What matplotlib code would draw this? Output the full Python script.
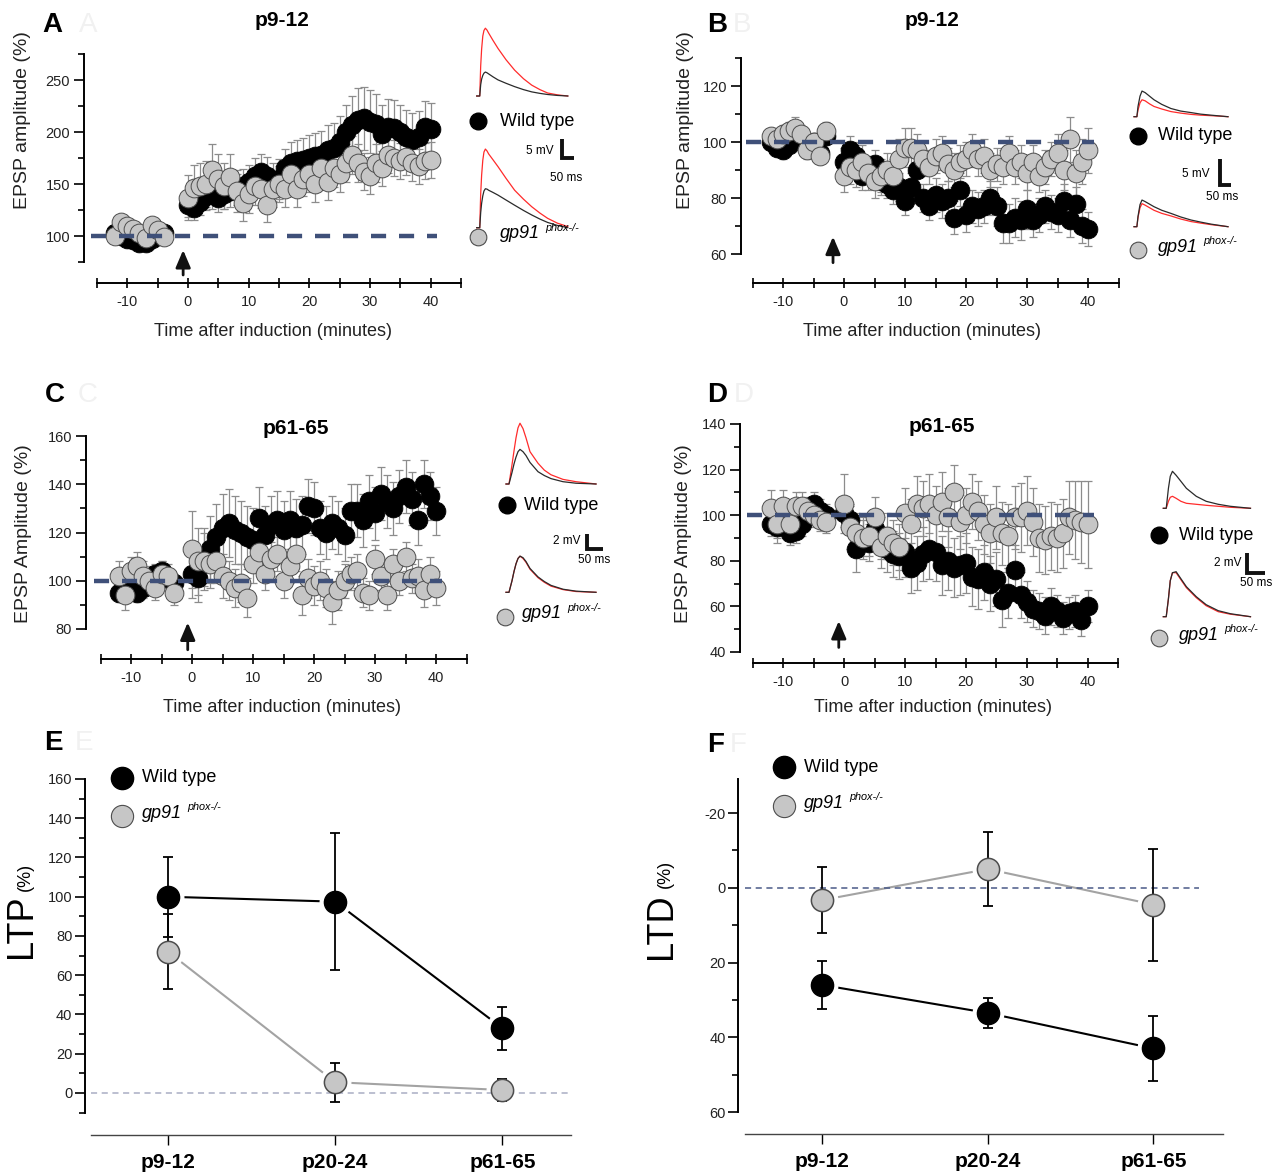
import numpy as np
import matplotlib
matplotlib.use("Agg")
import matplotlib.pyplot as plt
from matplotlib.ticker import MultipleLocator

plt.rcParams['font.family'] = ['Liberation Sans', 'DejaVu Sans']
plt.rcParams['axes.unicode_minus'] = False

W, H = 1283, 1172

# ---------------- time courses, EPSP amplitude (% of baseline) ----------------
base_min_A = [-12, -11, -10, -9, -8, -7, -6, -5, -4]
base_min = [-12, -11, -10, -9, -8, -7, -6, -5, -4, -3]
post_min = list(range(0, 41))

# A  LTP  p9-12
A_wt_base = [103, 100, 97, 96, 93, 93, 97, 100, 103]
A_wt_base_err = [4, 4, 5, 4, 4, 5, 4, 4, 4]
A_ko_base = [100, 113, 110, 107, 103, 98, 111, 106, 99]
A_ko_base_err = [5, 6, 6, 5, 5, 5, 6, 5, 5]
A_wt = [130, 127, 133, 138, 140, 137, 140, 143, 145, 148, 152, 158, 162, 158, 152, 155, 165, 170, 172, 173,
        175, 177, 178, 183, 185, 190, 200, 207, 212, 213, 210, 208, 198, 205, 204, 200, 195, 192, 195, 205, 203]
A_wt_err = [12, 12, 13, 13, 14, 14, 14, 15, 15, 16, 16, 17, 17, 18, 18, 19, 19, 20, 20, 21,
            22, 22, 23, 24, 24, 25, 26, 28, 30, 30, 30, 29, 28, 27, 27, 26, 26, 26, 25, 25, 25]
A_ko = [137, 146, 148, 150, 163, 155, 148, 157, 143, 132, 140, 148, 145, 130, 145, 150, 145, 160, 145, 155,
        160, 150, 165, 152, 165, 160, 170, 178, 170, 162, 158, 170, 165, 178, 175, 172, 176, 170, 167, 172, 173]
A_ko_err = [22, 22, 22, 22, 25, 24, 22, 22, 20, 18, 18, 18, 18, 17, 17, 17, 17, 18, 17, 17,
            18, 17, 18, 17, 18, 18, 18, 18, 18, 18, 18, 18, 17, 17, 17, 17, 17, 17, 17, 17, 17]

# B  LTD  p9-12
B_wt_base = [100, 98, 97, 99, 103, 102, 100, 100, 96, 102]
B_wt_base_err = [3, 3, 3, 3, 4, 3, 3, 3, 3, 3]
B_ko_base = [102, 101, 103, 104, 105, 103, 97, 100, 95, 104]
B_ko_base_err = [3, 3, 3, 3, 4, 3, 3, 3, 3, 3]
B_wt = [93, 97, 95, 88, 90, 92, 86, 85, 83, 84, 79, 84, 90, 80, 77, 81, 79, 80, 73, 83,
        74, 77, 76, 77, 80, 77, 71, 71, 73, 72, 76, 72, 74, 77, 75, 74, 79, 72, 78, 70, 69]
B_wt_err = [5, 5, 5, 5, 5, 5, 5, 5, 5, 5, 5, 5, 5, 5, 5, 6, 6, 6, 6, 6,
            6, 6, 6, 6, 6, 7, 7, 7, 7, 7, 7, 6, 6, 6, 6, 6, 6, 6, 6, 6, 6]
B_ko = [88, 91, 90, 93, 89, 86, 88, 90, 88, 94, 98, 98, 97, 94, 91, 95, 96, 92, 90, 93,
        94, 97, 94, 95, 90, 92, 91, 96, 91, 93, 89, 93, 88, 91, 94, 96, 90, 101, 89, 93, 97]
B_ko_err = [6, 6, 6, 6, 6, 6, 6, 6, 6, 7, 7, 7, 6, 6, 6, 6, 6, 6, 6, 6,
            6, 6, 6, 6, 6, 6, 6, 6, 6, 6, 6, 6, 6, 6, 6, 7, 7, 8, 8, 8, 8]

# C  LTP  p61-65
C_wt_base = [95, 97, 96, 95, 97, 99, 103, 104, 101, 99]
C_wt_base_err = [4, 4, 4, 4, 4, 4, 4, 4, 4, 4]
C_ko_base = [102, 94, 104, 106, 102, 100, 97, 103, 102, 95]
C_ko_base_err = [6, 6, 6, 6, 6, 6, 5, 5, 5, 5]
C_wt = [103, 101, 110, 113, 118, 122, 124, 121, 120, 118, 117, 126, 119, 123, 125, 121, 125, 122, 123, 131,
        130, 122, 120, 124, 122, 119, 129, 129, 125, 133, 128, 136, 133, 130, 135, 139, 134, 125, 140, 135, 129]
C_wt_err = [10, 10, 12, 14, 14, 14, 14, 14, 13, 13, 13, 13, 12, 12, 12, 12, 12, 12, 12, 11,
            11, 11, 11, 11, 11, 11, 11, 11, 11, 11, 11, 11, 11, 11, 11, 11, 11, 10, 10, 10, 10]
C_ko = [113, 108, 108, 107, 108, 102, 100, 97, 99, 93, 107, 112, 103, 109, 111, 100, 106, 111, 94, 101,
        98, 100, 97, 91, 96, 100, 103, 104, 95, 94, 109, 102, 94, 107, 100, 110, 101, 102, 96, 103, 97]
C_ko_err = [16, 14, 12, 10, 9, 9, 8, 8, 8, 8, 8, 7, 7, 7, 7, 7, 7, 7, 8, 8,
            8, 8, 8, 9, 8, 7, 7, 7, 6, 6, 6, 6, 6, 6, 6, 6, 6, 7, 7, 7, 7]

# D  LTD  p61-65
D_wt_base = [96, 95, 96, 92, 93, 96, 101, 105, 102, 100]
D_wt_base_err = [5, 5, 5, 5, 5, 5, 5, 5, 5, 5]
D_ko_base = [103, 96, 104, 96, 104, 104, 102, 100, 98, 97]
D_ko_base_err = [8, 8, 7, 7, 6, 6, 6, 5, 5, 5]
D_wt = [101, 98, 85, 90, 88, 94, 90, 85, 83, 82, 84, 77, 79, 83, 85, 84, 78, 80, 77, 78,
        79, 73, 72, 75, 70, 72, 63, 66, 76, 65, 62, 59, 58, 56, 60, 58, 55, 57, 58, 54, 60]
D_wt_err = [6, 6, 10, 8, 8, 8, 9, 10, 10, 10, 11, 11, 12, 12, 13, 13, 13, 13, 13, 13,
            13, 13, 13, 12, 12, 12, 12, 11, 11, 10, 9, 8, 8, 8, 8, 7, 7, 7, 7, 7, 7]
D_ko = [105, 95, 92, 90, 91, 99, 86, 91, 88, 86, 101, 96, 105, 103, 105, 100, 106, 99, 110, 97,
        100, 106, 102, 96, 92, 99, 92, 91, 99, 99, 102, 97, 90, 89, 91, 90, 92, 99, 98, 97, 96]
D_ko_err = [13, 10, 9, 9, 9, 9, 9, 10, 10, 10, 11, 11, 12, 12, 13, 13, 13, 13, 12, 12,
            12, 12, 13, 13, 13, 14, 14, 14, 14, 15, 15, 15, 15, 15, 15, 15, 15, 16, 17, 18, 19]

# ---------------- summary (E, F) ----------------
ages = ['p9-12', 'p20-24', 'p61-65']
ltp_wt = [100, 97.5, 33]
ltp_wt_err = [20.5, 35, 11]
ltp_ko = [72, 5.5, 1.5]
ltp_ko_err = [19, 10, 5.5]
ltd_wt = [26, 33.5, 43]
ltd_wt_err = [6.5, 4, 8.75]
ltd_ko = [3.3, -5, 4.5]
ltd_ko_err = [8.8, 9.8, 15]

# ---------------- example EPSP traces (ms, mV) ----------------
trace_t_A = [0, 13, 15, 17, 21, 26, 31, 37, 44, 51, 70, 91, 125, 162, 200, 235, 270, 303, 345, 389]
A_top_black = [0, 0, 1.5, 3, 4.5, 5.5, 6.1, 6.4, 6.2, 5.9, 5.1, 4.3, 3.4, 2.5, 1.7, 1.1, 0.7, 0.4, 0.15, 0]
A_top_red = [0, 0, 4, 8, 12.5, 16, 17.5, 18.1, 17.6, 16.8, 14.8, 12.7, 9.7, 6.9, 4.6, 2.9, 1.7, 0.8, 0.3, 0]
A_bot_black = [0, 0, 2, 4, 6.5, 8.5, 9.8, 10.4, 10.3, 10, 9.4, 8.7, 7.4, 6, 4.6, 3.4, 2.3, 1.4, 0.6, 0]
A_bot_red = [0, 0, 4.5, 9, 14, 18, 20.2, 21, 20.5, 19.7, 18.1, 16.3, 13.2, 10, 7.6, 5.6, 3.9, 2.5, 1.2, 0.3]

trace_t_B = [0, 13, 18, 27, 36, 50, 70, 90, 125, 166, 210, 257, 300, 347, 423]
B_top_black = [0, 0, 2, 4, 5, 4.7, 4, 3.3, 2.4, 1.6, 1.1, 0.8, 0.5, 0.3, 0]
B_top_red = [0, 0, 1.3, 2.7, 3.3, 3.1, 2.5, 2, 1.5, 1, 0.7, 0.45, 0.3, 0.2, 0]
B_bot_black = [0, 0, 2, 4.3, 5.2, 4.9, 4.4, 3.9, 3.2, 2.6, 1.9, 1.3, 0.9, 0.5, 0]
B_bot_red = [0, 0, 1.8, 3.7, 4.5, 4.2, 3.7, 3.2, 2.6, 2.1, 1.5, 1, 0.7, 0.4, 0]

trace_t_C = [0, 9, 18, 24, 30, 36, 42, 51, 60, 72, 96, 115, 135, 171, 210, 270]
C_top_black = [0, 0, 1.5, 2.6, 3.5, 4.2, 4.5, 4.2, 3.7, 2.8, 1.6, 1.1, 0.7, 0.3, 0.1, 0]
C_top_red = [0, 0, 2.5, 4.3, 6, 7.3, 7.9, 7.2, 6, 4.2, 2.7, 1.8, 1.2, 0.6, 0.3, 0]
C_bot_black = [0, 0, 1.5, 2.7, 3.7, 4.4, 4.7, 4.5, 4, 3.1, 2, 1.4, 0.9, 0.4, 0.15, 0]
C_bot_red = [0, 0, 1.5, 2.7, 3.7, 4.4, 4.7, 4.4, 3.9, 3, 1.9, 1.3, 0.8, 0.35, 0.1, 0]

trace_t_D = [0, 8, 14, 19, 25, 35, 48, 63, 90, 117, 150, 183, 238]
D_top_black = [0, 0, 2, 3.2, 3.7, 3.3, 2.7, 2, 1.2, 0.7, 0.4, 0.2, 0]
D_top_red = [0, 0, 0.7, 1.1, 1.2, 1.0, 0.7, 0.5, 0.4, 0.3, 0.2, 0.1, 0]
D_bot_black = [0, 0, 1.8, 3.6, 4.4, 4.5, 3.8, 3.0, 2, 1.2, 0.6, 0.3, 0]
D_bot_red = [0, 0, 1.8, 3.6, 4.4, 4.4, 3.7, 2.9, 1.9, 1.1, 0.5, 0.25, 0]

GRAY = '#c6c6c6'
GRAY_EDGE = '#4d4d4d'
DASH_BLUE = '#3f5079'
PT = 0.72  # points per pixel at 100 dpi

fig = plt.figure(figsize=(W / 100, H / 100), dpi=100)


def add_box(l, t, r, b):
    return fig.add_axes([l / W, 1 - b / H, (r - l) / W, (b - t) / H])


def time_course(box, ylim, ymaj, ymin, left_out, bottom_out,
                wt_bx, wt_b, wt_be, wt, wt_e, ko_bx, ko_b, ko_be, ko, ko_e, arrow):
    ax = add_box(*box)
    ax.set_xlim(-15, 45)
    ax.set_ylim(*ylim)
    for s in ('top', 'right'):
        ax.spines[s].set_visible(False)
    ax.spines['left'].set_position(('outward', left_out * PT))
    ax.spines['bottom'].set_position(('outward', bottom_out * PT))
    for s in ('left', 'bottom'):
        ax.spines[s].set_linewidth(1.4)
    ax.xaxis.set_major_locator(MultipleLocator(10))
    ax.xaxis.set_minor_locator(MultipleLocator(5))
    ax.yaxis.set_major_locator(MultipleLocator(ymaj))
    ax.yaxis.set_minor_locator(MultipleLocator(ymin))
    ax.tick_params(axis='y', which='major', direction='out', length=7, width=1.2,
                   labelsize=10.5, pad=3, labelcolor='#222222')
    ax.tick_params(axis='y', which='minor', direction='out', length=4, width=1.2)
    ax.tick_params(axis='x', which='both', direction='inout', length=7, width=1.2,
                   labelsize=10.5, pad=5, labelcolor='#222222')

    xw = list(wt_bx) + post_min
    xk = list(ko_bx) + post_min
    yw = list(wt_b) + list(wt)
    yk = list(ko_b) + list(ko)
    ew = list(wt_be) + list(wt_e)
    ek = list(ko_be) + list(ko_e)
    eb = dict(fmt='none', ecolor='#8c8c8c', elinewidth=0.9, capsize=2.8, capthick=0.9)
    ax.errorbar(xw, yw, yerr=ew, zorder=1, **eb)
    ax.errorbar(xk, yk, yerr=ek, zorder=1, **eb)
    ax.plot(xw, yw, ls='none', marker='o', ms=13.5, mfc='black', mec='black', mew=0.6, zorder=3)
    ax.plot(xk, yk, ls='none', marker='o', ms=13.5, mfc=GRAY, mec=GRAY_EDGE, mew=0.7, zorder=4)
    ax.hlines(100, -16, 41, colors=DASH_BLUE, lw=3.2, linestyles=(0, (3.4, 2.9)),
              zorder=6, clip_on=False)
    ax_x, tip, tail = arrow
    ax.annotate('', xy=(ax_x, tip), xytext=(ax_x, tail), annotation_clip=False,
                arrowprops=dict(arrowstyle='-|>,head_length=0.75,head_width=0.32',
                                mutation_scale=14, lw=2, color='#111111', shrinkA=0, shrinkB=0))
    return ax


time_course((97, 54, 461, 262), (75, 275), 50, 25, 13, 21,
            base_min_A, A_wt_base, A_wt_base_err, A_wt, A_wt_err,
            base_min_A, A_ko_base, A_ko_base_err, A_ko, A_ko_err, (-0.8, 86.5, 62.5))
time_course((752.5, 58, 1118.5, 254), (60, 130), 20, 10, 11.5, 29,
            base_min, B_wt_base, B_wt_base_err, B_wt, B_wt_err,
            base_min, B_ko_base, B_ko_base_err, B_ko, B_ko_err, (-1.8, 66.2, 56.9))
time_course((100.5, 436, 466.5, 629), (80, 160), 20, 10, 14.5, 30,
            base_min, C_wt_base, C_wt_base_err, C_wt, C_wt_err,
            base_min, C_ko_base, C_ko_base_err, C_ko, C_ko_err, (-0.7, 82.7, 71.4))
time_course((753, 424, 1118, 652), (40, 140), 20, 10, 13, 11,
            base_min, D_wt_base, D_wt_base_err, D_wt, D_wt_err,
            base_min, D_ko_base, D_ko_base_err, D_ko, D_ko_err, (-0.9, 53.6, 42))


def summary(box, xlim, ylim, left_out, wt, wt_e, ko, ko_e, zero_color, zero_end):
    ax = add_box(*box)
    x = np.arange(len(ages))
    ax.set_xlim(*xlim)
    ax.set_ylim(*ylim)
    for s in ('top', 'right'):
        ax.spines[s].set_visible(False)
    ax.spines['left'].set_position(('outward', left_out * PT))
    ax.spines['bottom'].set_position(('outward', 22 * PT))
    ax.spines['left'].set_linewidth(1.4)
    ax.spines['bottom'].set_linewidth(1.0)
    ax.spines['bottom'].set_color('#444444')
    ax.yaxis.set_major_locator(MultipleLocator(20))
    ax.yaxis.set_minor_locator(MultipleLocator(10))
    ax.set_xticks(x)
    ax.set_xticklabels(ages, fontsize=15, fontweight='bold')
    ax.tick_params(axis='y', which='major', direction='out', length=7, width=1.2,
                   labelsize=10.5, pad=2, labelcolor='#222222')
    ax.tick_params(axis='y', which='minor', direction='out', length=4, width=1.2)
    ax.tick_params(axis='x', direction='out', length=7, width=1.0, pad=6)
    ax.axhline(0, xmin=0, xmax=zero_end, color=zero_color, lw=1.1, ls=(0, (4, 3)), zorder=2.5)
    ax.plot(x, wt, color='black', lw=1.5, zorder=1)
    ax.plot(x, ko, color='#a3a3a3', lw=1.5, zorder=1)
    ax.plot(x, wt, ls='none', marker='o', ms=22, mfc='white', mec='white', zorder=2)
    ax.plot(x, ko, ls='none', marker='o', ms=22, mfc='white', mec='white', zorder=2)
    eb = dict(fmt='none', ecolor='black', elinewidth=1.3, capsize=3.3, capthick=1.3, zorder=3)
    ax.errorbar(x, wt, yerr=wt_e, **eb)
    ax.errorbar(x, ko, yerr=ko_e, **eb)
    ax.plot(x, wt, ls='none', marker='o', ms=16, mfc='black', mec='black', zorder=4)
    ax.plot(x, ko, ls='none', marker='o', ms=16, mfc=GRAY, mec=GRAY_EDGE, mew=1.1, zorder=5)
    return ax


summary((91, 779, 571, 1112.6), (-0.46, 2.41), (-10, 160), 6,
        ltp_wt, ltp_wt_err, ltp_ko, ltp_ko_err, '#a9aec4', 1.0)
summary((745, 779.4, 1223, 1112), (-0.465, 2.42), (60, -29), 7,
        ltd_wt, ltd_wt_err, ltd_ko, ltd_ko_err, '#4a5a88', 0.95)

# ---------------- overlay in figure pixels: labels, legends, traces ----------------
ov = fig.add_axes([0, 0, 1, 1])
ov.set_xlim(0, W)
ov.set_ylim(H, 0)
ov.axis('off')
ov.patch.set_alpha(0)
ov.set_zorder(10)


def txt(x, y, s, **kw):
    kw.setdefault('ha', 'center')
    kw.setdefault('va', 'center')
    return ov.text(x, y, s, **kw)


def gp91(x, y, size=13):
    t = txt(x, y, 'gp91', ha='left', style='italic', fontsize=size)
    ov.annotate('phox-/-', xy=(1, 1), xycoords=t, xytext=(3.5, 1.5), textcoords='offset points',
                ha='left', va='top', style='italic', fontsize=size * 0.6)


def legend(wt_xy, ko_xy, text_dx, ms=12, size=13):
    ov.plot(*wt_xy, ls='none', marker='o', ms=ms, mfc='black', mec='black')
    ov.plot(*ko_xy, ls='none', marker='o', ms=ms, mfc=GRAY, mec=GRAY_EDGE, mew=0.8)
    txt(wt_xy[0] + text_dx, wt_xy[1], 'Wild type', ha='left', fontsize=size)
    gp91(ko_xy[0] + text_dx, ko_xy[1] - 3, size)


def traces(x0, y_top, y_bot, ms_px, mv_px, t, tb, tr, bb, br):
    tx = x0 + np.asarray(t) / ms_px
    for y0, blk, red in ((y_top, tb, tr), (y_bot, bb, br)):
        ov.plot(tx, y0 - np.asarray(red) / mv_px, color='#ff2b2b', lw=0.9)
        ov.plot(tx, y0 - np.asarray(blk) / mv_px, color='#2a2a2a', lw=0.9)


def scale_bar(x, y, mv, ms, ms_px, mv_px, mv_label, ms_label, mv_xy, ms_xy):
    ov.plot([x, x, x + ms / ms_px], [y - mv / mv_px, y, y], color='#111111', lw=2.8,
            solid_capstyle='butt', solid_joinstyle='miter')
    txt(*mv_xy, mv_label, fontsize=8.5)
    txt(*ms_xy, ms_label, fontsize=8.5)


# panel letters (with the faint duplicate letters seen in the source)
for letter, (lx, ly), gx in (('A', (52, 25), 88), ('B', (717, 25), 742), ('C', (55, 395), 88),
                             ('D', (717, 395), 744), ('E', (53, 743), 84), ('F', (716, 745), 738)):
    txt(lx, ly, letter, fontsize=20, fontweight='bold')
    txt(gx, ly, letter, fontsize=20, color='#f1f1f1')

txt(282, 20, 'p9-12', fontsize=15, fontweight='bold')
txt(932, 20, 'p9-12', fontsize=15, fontweight='bold')
txt(296, 428, 'p61-65', fontsize=15, fontweight='bold')
txt(942, 427, 'p61-65', fontsize=15, fontweight='bold')

txt(22.5, 120, 'EPSP amplitude (%)', rotation=90, fontsize=14, color='#222222')
txt(685, 120, 'EPSP amplitude (%)', rotation=90, fontsize=14, color='#222222')
txt(23.5, 534, 'EPSP Amplitude (%)', rotation=90, fontsize=14, color='#222222')
txt(684, 534, 'EPSP Amplitude (%)', rotation=90, fontsize=14, color='#222222')
for x, y in ((273, 332), (922, 332), (282, 708), (933, 708)):
    txt(x, y, 'Time after induction (minutes)', fontsize=13, color='#222222')

txt(22, 926, 'LTP', rotation=90, fontsize=26)
txt(25, 877, '(%)', rotation=90, fontsize=13)
txt(662, 926, 'LTD', rotation=90, fontsize=26)
txt(665, 874, '(%)', rotation=90, fontsize=13)

# legends
legend((478, 121), (478, 237), 22)
legend((1138, 136), (1138, 250), 20)
legend((507, 505), (505, 617), 17)
legend((1159, 535), (1159, 638), 20)
legend((122, 778), (122, 816), 20, ms=16)
legend((784, 767), (784, 806), 20, ms=16)

# example traces and scale bars
traces(476.7, 96, 227.7, 4.27, 0.267, trace_t_A, A_top_black, A_top_red, A_bot_black, A_bot_red)
scale_bar(562, 157.7, 5, 50, 4.27, 0.267, '5 mV', '50 ms', (540, 151), (566, 178))
traces(1134, 116.7, 226.7, 4.5, 0.195, trace_t_B, B_top_black, B_top_red, B_bot_black, B_bot_red)
scale_bar(1219.6, 185, 5, 50, 4.5, 0.195, '5 mV', '50 ms', (1196, 174), (1222, 197))
traces(506, 484, 592.3, 3.0, 0.13, trace_t_C, C_top_black, C_top_red, C_bot_black, C_bot_red)
scale_bar(586.5, 549.3, 2, 50, 3.0, 0.13, '2 mV', '50 ms', (567, 541), (594, 560))
traces(1163.3, 508.3, 616.7, 2.73, 0.1, trace_t_D, D_top_black, D_top_red, D_bot_black, D_bot_red)
scale_bar(1246.7, 573, 2, 50, 2.73, 0.1, '2 mV', '50 ms', (1228, 563), (1256, 583))

fig.savefig('out.png', dpi=100)
